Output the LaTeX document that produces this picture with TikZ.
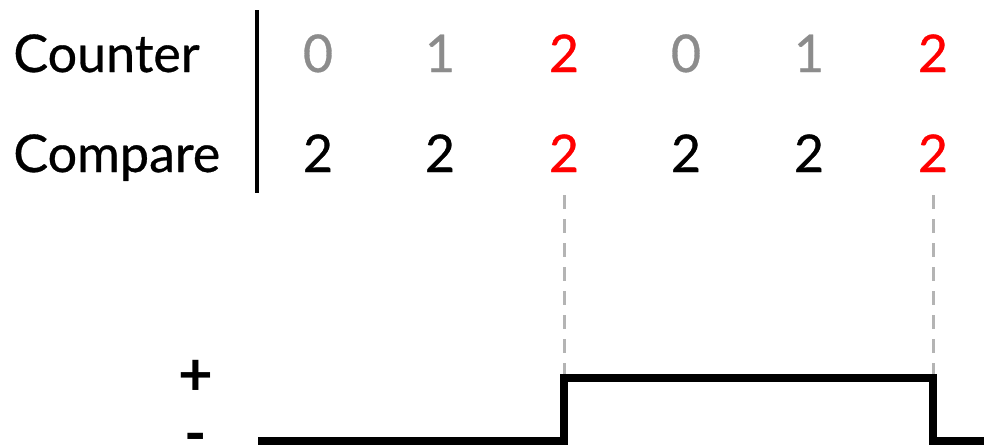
\documentclass[tikz,border=0pt]{standalone}
\usepackage{fontspec}
\setmainfont{Lato}
\newfontfamily\labelfont{Lato}[FakeBold=0.6]

\begin{document}
\begin{tikzpicture}[x=0.5pt, y=-0.5pt]

% Colours
\definecolor{cntgray}{RGB}{140,140,140}
\definecolor{hitred}{RGB}{255,0,0}
\definecolor{guidegray}{RGB}{180,180,180}

\tikzset{
  label/.style={inner sep=0pt, font=\labelfont\fontsize{26}{30}\selectfont},
  digit/.style={label, anchor=base},
  level/.style={inner sep=0pt, font=\bfseries\fontsize{30}{32}\selectfont},
  guide/.style={guidegray, line width=1.5pt, dash pattern=on 7pt off 5pt},
  wave/.style={black, line width=4pt}
}

\useasboundingbox (0,0) rectangle (984,446);

% Row labels and separator
\node[label, anchor=base west] (counter) at (13,72) {Counter};
\node[label, anchor=base west] (compare) at (13,172) {Compare};
\draw[line width=2pt] (257,10) -- (257,193);

% Counter and compare values
\foreach \i/\x/\c/\col in {1/318/0/cntgray, 2/440/1/cntgray, 3/564/2/hitred,
                          4/686/0/cntgray, 5/809/1/cntgray, 6/933/2/hitred} {
  \node[digit, text=\col] (cnt\i) at (\x,72) {\c};
}
\foreach \i/\x/\col in {1/318/black, 2/440/black, 3/564/hitred,
                        4/686/black, 5/809/black, 6/933/hitred} {
  \node[digit, text=\col] (cmp\i) at (\x,172) {2};
}

% Output levels
\node[level] (plus) at (196,378) {+};
\node[level] (minus) at (196,444) {-};

% Waveform
\coordinate (start) at (258,441);
\coordinate (rise) at (564,441);
\coordinate (high1) at (564,378);
\coordinate (high2) at (933,378);
\coordinate (fall) at (933,441);
\coordinate (stop) at (984,441);
\draw[wave] (start) -- (rise) -- (high1) -- (high2) -- (fall) -- (stop);

% Match guides
\draw[guide] ([yshift=-11.5pt]cmp3.base) -- ([yshift=2pt]high1);
\draw[guide] ([yshift=-11.5pt]cmp6.base) -- ([yshift=2pt]high2);

\end{tikzpicture}
\end{document}
